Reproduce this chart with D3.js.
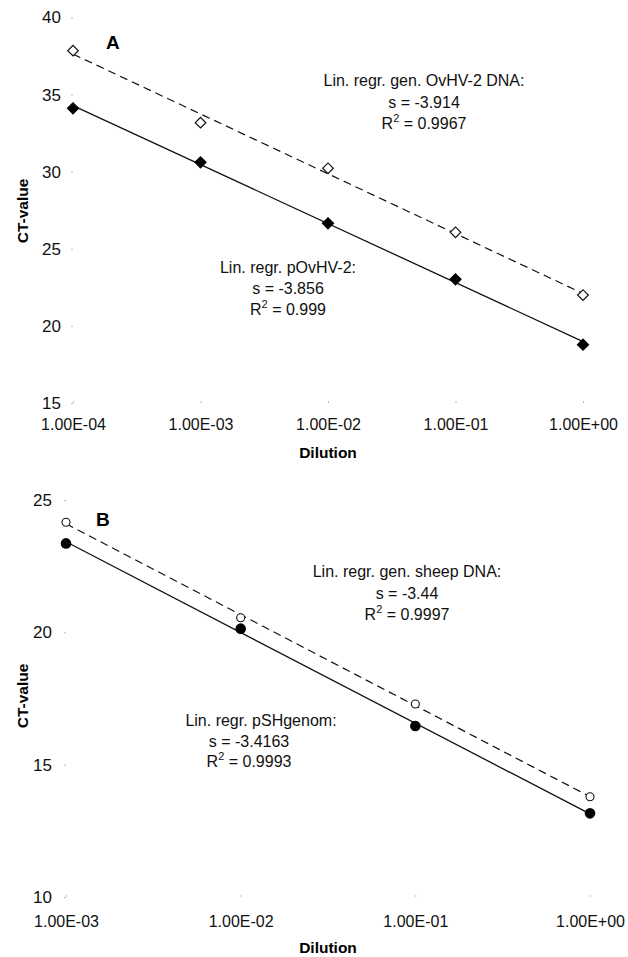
<!DOCTYPE html>
<html><head><meta charset="utf-8">
<script src="https://cdn.jsdelivr.net/npm/d3@7"></script>
<style>
body{margin:0;background:#fff;}
svg{display:block;font-family:"Liberation Sans",Arial,sans-serif;}
</style></head>
<body><svg id="c" width="628" height="957"></svg>
<script>
// ---- Data ----
const dilutionsA = [1e-4, 1e-3, 1e-2, 1e-1, 1];
const genOvHV2 = [37.85, 33.18, 30.22, 26.07, 22.0];   // open diamonds, dashed
const pOvHV2   = [34.11, 30.61, 26.65, 23.02, 18.78];  // filled diamonds, solid
const yTicksA = [15, 20, 25, 30, 35, 40];
const xTickLabelsA = ["1.00E-04", "1.00E-03", "1.00E-02", "1.00E-01", "1.00E+00"];

const dilutionsB = [1e-3, 1e-2, 1e-1, 1];
const genSheep = [24.16, 20.55, 17.29, 13.79];  // open circles, dashed
const pSHgenom = [23.36, 20.14, 16.46, 13.16];  // filled circles, solid
const yTicksB = [10, 15, 20, 25];
const xTickLabelsB = ["1.00E-03", "1.00E-02", "1.00E-01", "1.00E+00"];

const annotA = [
  {lines:["Lin. regr. gen. OvHV-2 DNA:", "s = -3.914", "R2 = 0.9967"]},
  {lines:["Lin. regr. pOvHV-2:", "s = -3.856", "R2 = 0.999"]}
];
const annotB = [
  {lines:["Lin. regr. gen. sheep DNA:", "s = -3.44", "R2 = 0.9997"]},
  {lines:["Lin. regr. pSHgenom:", "s = -3.4163", "R2 = 0.9993"]}
];

const svg = d3.select("#c");

function fit(xs, ys){
  const lx = xs.map(Math.log10);
  const mx = d3.mean(lx), my = d3.mean(ys);
  const b = d3.sum(lx.map((v,i)=>(v-mx)*(ys[i]-my))) / d3.sum(lx.map(v=>(v-mx)*(v-mx)));
  const a = my - b*mx;
  return xs.map(x => [x, a + b*Math.log10(x)]);
}

function panel(cfg){
  const g = svg.append("g");
  const x = d3.scaleLog().domain(cfg.xDomain).range(cfg.xRange);
  const y = d3.scaleLinear().domain(cfg.yDomain).range(cfg.yRange);

  const ya = g.append("g").attr("transform",`translate(${cfg.xRange[0]},0)`)
    .call(d3.axisLeft(y).tickValues(cfg.yTicks).tickSize(2).tickPadding(cfg.yPad).tickFormat(d3.format("d")));
  ya.select(".domain").remove();
  ya.selectAll(".tick line").attr("stroke","#bbb");
  ya.selectAll("text").attr("font-size",17).attr("fill","#111").style("font-family","Liberation Sans, Arial, sans-serif");

  const xa = g.append("g").attr("transform",`translate(0,${cfg.yRange[0]})`)
    .call(d3.axisBottom(x).tickValues(cfg.xVals).tickSize(2).tickPadding(cfg.xPad).tickFormat((d,i)=>cfg.xLabels[i]));
  xa.select(".domain").remove();
  xa.selectAll(".tick line").attr("stroke","#bbb").attr("transform","translate(0,-2)");
  xa.selectAll("text").attr("font-size",16).attr("fill","#111").style("font-family","Liberation Sans, Arial, sans-serif");

  g.append("text").attr("x",cfg.xTitle[0]).attr("y",cfg.xTitle[1]).attr("text-anchor","middle")
    .attr("font-size",15.5).attr("font-weight","bold").text("Dilution");
  g.append("text").attr("transform",`translate(${cfg.yTitle[0]},${cfg.yTitle[1]}) rotate(-90)`)
    .attr("text-anchor","middle").attr("font-size",15.5).attr("font-weight","bold").text("CT-value");

  g.append("text").attr("x",cfg.letterPos[0]).attr("y",cfg.letterPos[1]).attr("font-size",19)
    .attr("font-weight","bold").text(cfg.letter);

  const line = d3.line().x(d=>x(d[0])).y(d=>y(d[1]));
  const fo = fit(cfg.xVals, cfg.open);
  const ff = fit(cfg.xVals, cfg.filled);
  g.append("path").attr("d", line([fo[0], fo[fo.length-1]])).attr("fill","none")
    .attr("stroke","#111").attr("stroke-width",1.2).attr("stroke-dasharray","8,5");
  g.append("path").attr("d", line([ff[0], ff[ff.length-1]])).attr("fill","none")
    .attr("stroke","#111").attr("stroke-width",1.3);

  if(cfg.shape === "diamond"){
    g.selectAll(".fo").data(cfg.open).join("path")
      .attr("d", d3.symbol().type(d3.symbolSquare).size(56)())
      .attr("transform",(d,i)=>`translate(${x(cfg.xVals[i])},${y(d)}) rotate(45)`)
      .attr("fill","#fff").attr("stroke","#111").attr("stroke-width",1.2);
    g.selectAll(".ff").data(cfg.filled).join("path")
      .attr("d", d3.symbol().type(d3.symbolSquare).size(64)())
      .attr("transform",(d,i)=>`translate(${x(cfg.xVals[i])},${y(d)}) rotate(45)`)
      .attr("fill","#000").attr("stroke","#000").attr("stroke-width",1);
  } else {
    g.selectAll(".co").data(cfg.open).join("circle")
      .attr("cx",(d,i)=>x(cfg.xVals[i])).attr("cy",d=>y(d)).attr("r",4)
      .attr("fill","#fff").attr("stroke","#111").attr("stroke-width",1.1);
    g.selectAll(".cf").data(cfg.filled).join("circle")
      .attr("cx",(d,i)=>x(cfg.xVals[i])).attr("cy",d=>y(d)).attr("r",5.3)
      .attr("fill","#000");
  }

  cfg.annot.forEach((a,k)=>{
    const pos = cfg.annotPos[k];
    a.lines.forEach((t,j)=>{
      const dx = (j===0 && pos[2]) ? pos[2] : 0;
      const tx = g.append("text").attr("x",pos[0]+dx).attr("y",pos[1]+j*pos[3])
        .attr("text-anchor","middle").attr("font-size",16).attr("fill","#111");
      if(t.startsWith("R2")){
        tx.append("tspan").text("R");
        tx.append("tspan").attr("dy",-7).attr("font-size",11).text("2");
        tx.append("tspan").attr("dy",7).text(t.slice(2));
      } else tx.text(t);
    });
  });
}

panel({
  xDomain:[1e-4,1], xRange:[73,583], yDomain:[15,40], yRange:[403,17.5],
  yTicks:yTicksA, xVals:dilutionsA, xLabels:xTickLabelsA, yPad:10, xPad:14,
  open:genOvHV2, filled:pOvHV2, shape:"diamond",
  xTitle:[328,458], yTitle:[28,211], letter:"A", letterPos:[106,49],
  annot:annotA, annotPos:[[424,86,0,21.5],[288,273,0,21]]
});
panel({
  xDomain:[1e-3,1], xRange:[66,590], yDomain:[10,25], yRange:[897,500],
  yTicks:yTicksB, xVals:dilutionsB, xLabels:xTickLabelsB, yPad:12, xPad:17,
  open:genSheep, filled:pSHgenom, shape:"circle",
  xTitle:[328,953], yTitle:[28,696], letter:"B", letterPos:[96,526],
  annot:annotB, annotPos:[[407,577,0,21.5],[249,726,12,20.5]]
});
</script></body></html>
